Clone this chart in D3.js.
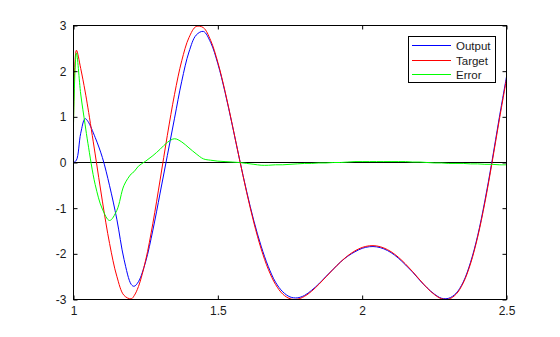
<!DOCTYPE html>
<html>
<head>
<meta charset="utf-8">
<script src="https://cdn.jsdelivr.net/npm/d3@7"></script>
<style>
  body { margin: 0; background: #fff; }
  text { font-family: "Liberation Sans", Arial, sans-serif; }
</style>
</head>
<body>
<div id="wrapper"></div>
<script>
// time samples (x) and the three series
const time = [1.00, 1.01, 1.025, 1.04, 1.05, 1.075, 1.10, 1.125, 1.15, 1.175, 1.20, 1.21, 1.225, 1.25, 1.275,
  1.30, 1.325, 1.35, 1.375, 1.40, 1.425, 1.45, 1.475, 1.50, 1.525, 1.55, 1.575, 1.60, 1.625, 1.65,
  1.675, 1.70, 1.725, 1.75, 1.775, 1.80, 1.825, 1.85, 1.875, 1.90, 1.925, 1.95, 1.975, 2.00, 2.025,
  2.05, 2.075, 2.10, 2.125, 2.15, 2.175, 2.20, 2.225, 2.25, 2.275, 2.30, 2.325, 2.35, 2.375, 2.40,
  2.425, 2.45, 2.475, 2.50]

const target = [0.847, 2.459, 2.059, 1.565, 1.196, 0.187, -0.845, -1.774, -2.490, -2.910, -2.986, -2.918, -2.717, -2.140, -1.330,
  -0.383, 0.593, 1.493, 2.229, 2.735, 2.979, 2.952, 2.676, 2.193, 1.557, 0.830, 0.074, -0.658, -1.323, -1.891,
  -2.342, -2.672, -2.882, -2.983, -2.994, -2.932, -2.818, -2.668, -2.503, -2.335, -2.179, -2.042, -1.935, -1.860, -1.824,
  -1.827, -1.871, -1.953, -2.072, -2.221, -2.391, -2.572, -2.746, -2.891, -2.983, -2.992, -2.887, -2.639, -2.224, -1.635,
  -0.882, -0.003, 0.932, 1.827]

const output = [0.00, 0.05, 0.64, 0.96, 0.90, 0.55, 0.11, -0.51, -1.24, -2.12, -2.67, -2.71, -2.61, -2.17, -1.48,
  -0.67, 0.15, 0.97, 1.78, 2.42, 2.79, 2.87, 2.63, 2.163, 1.537, 0.820, 0.074, -0.638, -1.283, -1.831,
  -2.282, -2.622, -2.832, -2.943, -2.964, -2.912, -2.798, -2.658, -2.493, -2.335, -2.179, -2.052, -1.955, -1.880, -1.844,
  -1.847, -1.891, -1.973, -2.092, -2.241, -2.401, -2.582, -2.746, -2.881, -2.973, -2.972, -2.867, -2.619, -2.194, -1.605,
  -0.842, 0.037, 0.982, 1.877]

const error = [0.847, 2.40, 1.50, 0.84, 0.42, -0.48, -1.02, -1.27, -1.05, -0.50, -0.25, -0.20, -0.08, 0.03, 0.15,
  0.29, 0.44, 0.52, 0.45, 0.32, 0.19, 0.08, 0.05, 0.03, 0.02, 0.01, 0.00, -0.02, -0.04, -0.06,
  -0.06, -0.05, -0.05, -0.04, -0.03, -0.02, -0.02, -0.01, -0.01, 0.00, 0.00, 0.01, 0.02, 0.02, 0.02,
  0.02, 0.02, 0.02, 0.02, 0.02, 0.01, 0.01, 0.00, -0.01, -0.01, -0.02, -0.02, -0.02, -0.03, -0.03,
  -0.04, -0.04, -0.05, -0.05]

const xTicks = [1, 1.5, 2, 2.5]
const yTicks = [-3, -2, -1, 0, 1, 2, 3]
const legendNames = ["Output", "Target", "Error"]
const legendColors = ["#0000ff", "#ff0000", "#00ff00"]

function drawChart() {
  const width = 560
  const height = 337
  const svg = d3.select("#wrapper").append("svg")
      .attr("width", width)
      .attr("height", height)

  const xScale = d3.scaleLinear().domain([1, 2.5]).range([73.5, 506.5])
  const yScale = d3.scaleLinear().domain([-3, 3]).range([299.5, 25.5])

  // zero line
  svg.append("line")
      .attr("x1", xScale(1)).attr("x2", xScale(2.5))
      .attr("y1", yScale(0)).attr("y2", yScale(0))
      .attr("stroke", "#000")
      .attr("stroke-width", 1)

  const line = d3.line()
      .x((d, i) => xScale(time[i]))
      .y(d => yScale(d))
      .curve(d3.curveCatmullRom.alpha(0.5))

  const series = [output, target, error]
  svg.append("g")
    .selectAll("path")
    .data(series)
    .join("path")
      .attr("d", line)
      .attr("fill", "none")
      .attr("stroke", (d, i) => legendColors[i])
      .attr("stroke-width", 1)

  // axes, ticks pointing inward, plain hyphen minus like the original
  const fontSize = "12px"
  const fmt = d => String(d)
  const xAxis = svg.append("g")
      .attr("transform", `translate(0, ${yScale(-3)})`)
      .call(d3.axisBottom(xScale).tickValues(xTicks).tickSizeInner(-4).tickSizeOuter(0).tickPadding(7)
        .tickFormat(fmt))
  const yAxis = svg.append("g")
      .attr("transform", `translate(${xScale(1)}, 0)`)
      .call(d3.axisLeft(yScale).tickValues(yTicks).tickSizeInner(-4).tickSizeOuter(0).tickPadding(7)
        .tickFormat(fmt))
  const xTop = svg.append("g")
      .attr("transform", `translate(0, ${yScale(3)})`)
      .call(d3.axisTop(xScale).tickValues(xTicks).tickSizeInner(-4).tickSizeOuter(0).tickFormat(""))
  const yRight = svg.append("g")
      .attr("transform", `translate(${xScale(2.5)}, 0)`)
      .call(d3.axisRight(yScale).tickValues(yTicks).tickSizeInner(-4).tickSizeOuter(0).tickFormat(""))

  ;[xAxis, yAxis, xTop, yRight].forEach(g => {
    g.select(".domain").remove()
    g.selectAll("line").attr("stroke", "#000")
    g.selectAll("text")
        .attr("fill", "#1a1a1a")
        .style("font-size", fontSize)
        .style("font-family", "'Liberation Sans', Arial, sans-serif")
  })

  // box
  svg.append("rect")
      .attr("x", xScale(1)).attr("y", yScale(3))
      .attr("width", xScale(2.5) - xScale(1))
      .attr("height", yScale(-3) - yScale(3))
      .attr("fill", "none")
      .attr("stroke", "#000")

  // legend
  const legend = svg.append("g").attr("transform", "translate(408.5, 36.5)")
  legend.append("rect")
      .attr("width", 87).attr("height", 46)
      .attr("fill", "#fff")
      .attr("stroke", "#000")
  const rows = legend.selectAll(".row")
      .data(legendNames)
      .join("g")
      .attr("class", "row")
      .attr("transform", (d, i) => `translate(0, ${Math.round(9 + i * 14.5)})`)
  rows.append("line")
      .attr("x1", 3.5).attr("x2", 42.5)
      .attr("stroke", (d, i) => legendColors[i])
      .attr("stroke-width", 1)
  rows.append("text")
      .attr("x", 47.5)
      .attr("y", 4)
      .text(d => d)
      .attr("fill", "#1a1a1a")
      .style("font-size", "11.5px")
}
drawChart()
</script>
</body>
</html>
